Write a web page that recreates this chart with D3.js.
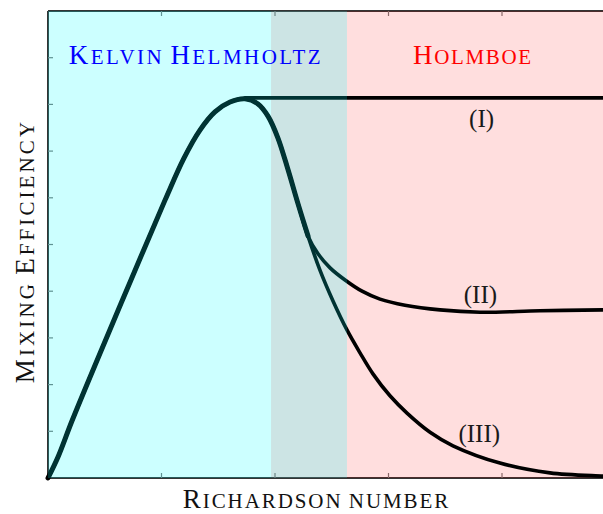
<!DOCTYPE html>
<meta charset="utf-8">
<style>
body { margin: 0; background: #fff; }
text { font-family: "Liberation Serif", "DejaVu Serif", serif; }
</style>
<svg width="603" height="514"></svg>
<script src="https://cdn.jsdelivr.net/npm/d3@7"></script>
<script>

// shared rising part of the curve, then the descent up to where II and III split
var rise_x = [0, 0.088, 0.211, 0.441, 0.731, 1.031, 1.198, 1.339, 1.471, 1.604, 1.736];
var rise_y = [0, 0.45, 1.22, 2.57, 4.24, 5.95, 6.85, 7.45, 7.84, 8.05, 8.12];
var fall_x = [1.850, 1.938, 2.026, 2.115, 2.203, 2.291];
var fall_y = [8.01, 7.75, 7.28, 6.60, 5.87, 5.18];

// branches
var branch1_x = [1.736, 4.95];
var branch1_y = [8.14, 8.14];
var branch2_x = [2.379, 2.485, 2.617, 2.767, 2.925, 3.145, 3.454, 3.806, 4.335, 4.890, 4.95];
var branch2_y = [4.80, 4.50, 4.24, 4.00, 3.83, 3.70, 3.60, 3.55, 3.58, 3.60, 3.60];
var branch3_x = [2.396, 2.511, 2.634, 2.749, 2.863, 3.013, 3.163, 3.366, 3.568, 3.982, 4.423, 4.890, 4.95];
var branch3_y = [4.45, 3.79, 3.17, 2.68, 2.23, 1.76, 1.39, 0.98, 0.69, 0.32, 0.11, 0.04, 0.03];

var branch_labels = ["(I)", "(II)", "(III)"];
var label_x = [3.82, 3.81, 3.80];
var label_y = [7.52, 3.75, 0.77];

// regimes
var regime_names = ["Kelvin Helmholtz", "Holmboe"];
var regime_from = [0, 1.965];
var regime_to = [2.634, 5.2];
var regime_colors = ["#00ffff", "#ff0000"];
var regime_opacity = [0.2, 0.13];
var regime_text = ["#0000ff", "#ff0000"];
var regime_label_x = [1.304, 3.744];
var regime_label_w = [248, 118];

var x_ticks = [1, 2, 3, 4];
var y_ticks = [1, 2, 3, 4, 5, 6, 7, 8, 9];

var svg = d3.select("svg");

var x = d3.scaleLinear().domain([0, 5]).range([48, 615.5]);
var y = d3.scaleLinear().domain([0, 10]).range([478, 11]);

function zip(xs, ys) { return xs.map(function(d, i) { return [d, ys[i]]; }); }

var line = d3.line()
    .x(function(d) { return x(d[0]); })
    .y(function(d) { return y(d[1]); })
    .curve(d3.curveCatmullRom.alpha(0.5));

// small caps by hand: first letter big, the rest upper case smaller,
// then spread the letters so the label gets the wanted length
function smallcaps(sel, str, big, small, len) {
  str.split(" ").forEach(function(w, i) {
    var first = w[0], rest = w.slice(1).toUpperCase();
    var fs = first === first.toUpperCase() ? big : small;
    sel.append("tspan").attr("font-size", fs).attr("dx", i ? small * 0.3 : 0).text(first.toUpperCase());
    sel.append("tspan").attr("font-size", small).text(rest);
  });
  var l0 = sel.node().getComputedTextLength();
  sel.attr("letter-spacing", Math.max(0, (len - l0) / (str.length - 1)));
}

// frame
var frame = svg.append("g");
frame.append("line").attr("x1", x(0)).attr("x2", x(5)).attr("y1", y(0)).attr("y2", y(0));
frame.append("line").attr("x1", x(0)).attr("x2", x(5)).attr("y1", y(10)).attr("y2", y(10));
frame.append("line").attr("x1", x(0)).attr("x2", x(0)).attr("y1", y(0)).attr("y2", y(10));
frame.selectAll("line").attr("stroke", "#333").attr("stroke-width", 2);

frame.selectAll(".xb").data(x_ticks).enter().append("line")
    .attr("x1", x).attr("x2", x).attr("y1", y(0)).attr("y2", y(0) - 5)
    .attr("stroke", "#777").attr("stroke-width", 1.2);
frame.selectAll(".xt").data(x_ticks).enter().append("line")
    .attr("x1", x).attr("x2", x).attr("y1", y(10)).attr("y2", y(10) + 5)
    .attr("stroke", "#777").attr("stroke-width", 1.2);
frame.selectAll(".yl").data(y_ticks).enter().append("line")
    .attr("y1", y).attr("y2", y).attr("x1", x(0)).attr("x2", x(0) + 5)
    .attr("stroke", "#777").attr("stroke-width", 1.2);

// holmboe band under the curves
svg.append("rect")
    .attr("x", x(regime_from[1])).attr("width", x(regime_to[1]) - x(regime_from[1]))
    .attr("y", y(10)).attr("height", y(0) - y(10))
    .attr("fill", regime_colors[1]).attr("fill-opacity", regime_opacity[1]);

var shared = zip(rise_x, rise_y).concat(zip(fall_x, fall_y));
var curves = svg.append("g").attr("fill", "none").attr("stroke", "#000")
    .attr("stroke-linecap", "round").attr("stroke-linejoin", "round");
curves.append("path").datum(zip(branch1_x, branch1_y)).attr("d", line).attr("stroke-width", 3.6);
[zip(branch2_x, branch2_y), zip(branch3_x, branch3_y)].forEach(function(b) {
  curves.append("path").datum(shared.concat(b)).attr("d", line).attr("stroke-width", 3.6);
});
curves.append("path").datum(shared).attr("d", line).attr("stroke-width", 5);

// kelvin helmholtz band over the curves
svg.append("rect")
    .attr("x", x(regime_from[0])).attr("width", x(regime_to[0]) - x(regime_from[0]))
    .attr("y", y(10)).attr("height", y(0) - y(10))
    .attr("fill", regime_colors[0]).attr("fill-opacity", regime_opacity[0]);

regime_names.forEach(function(n, i) {
  var t = svg.append("text").attr("x", x(regime_label_x[i])).attr("y", 64)
      .attr("text-anchor", "middle").attr("fill", regime_text[i]);
  smallcaps(t, n, 27, 21, regime_label_w[i]);
});

svg.selectAll(".bl").data(branch_labels).enter().append("text")
    .attr("x", function(d, i) { return x(label_x[i]); })
    .attr("y", function(d, i) { return y(label_y[i]); })
    .attr("text-anchor", "middle").attr("font-size", 25).attr("fill", "#1a1a1a")
    .text(function(d) { return d; });

var xl = svg.append("text").attr("x", 316.5).attr("y", 508).attr("text-anchor", "middle").attr("fill", "#111");
smallcaps(xl, "Richardson number", 27, 21, 261);

var yl = svg.append("text").attr("transform", "translate(34,251) rotate(-90)")
    .attr("text-anchor", "middle").attr("fill", "#111");
smallcaps(yl, "Mixing Efficiency", 27, 21, 258);

</script>
